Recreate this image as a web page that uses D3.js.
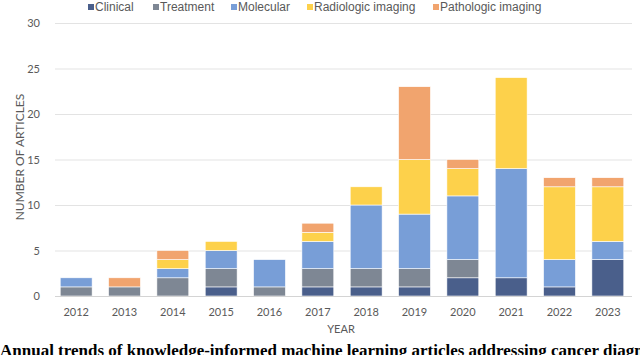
<!DOCTYPE html>
<html>
<head>
<meta charset="utf-8">
<script src="https://cdn.jsdelivr.net/npm/d3@7"></script>
<style>
    body { margin: 0; background: #fff; }
    svg { display: block; }
    .tick text { fill: #595959; font-family: Lato, "Open Sans", sans-serif; font-size: 11px; }
</style>
</head>
<body>
<div id="chart"></div>
<script>
(function() {
    var years = ['2012', '2013', '2014', '2015', '2016', '2017', '2018', '2019', '2020', '2021', '2022', '2023'];
    var series_names = ['Clinical', 'Treatment', 'Molecular', 'Radiologic imaging', 'Pathologic imaging'];
    var clinical   = [0, 0, 0, 1, 0, 1, 1, 1, 2, 2, 1, 4];
    var treatment  = [1, 1, 2, 2, 1, 2, 2, 2, 2, 0, 0, 0];
    var molecular  = [1, 0, 1, 2, 3, 3, 7, 6, 7, 12, 3, 2];
    var radiologic = [0, 0, 1, 1, 0, 1, 2, 6, 3, 10, 8, 6];
    var pathologic = [0, 1, 1, 0, 0, 1, 0, 8, 1, 0, 1, 1];
    var y_ticks = [0, 5, 10, 15, 20, 25, 30];

    var width = 640,
        height = 355,
        colors = ['#4a5f8b', '#7e8794', '#789ed7', '#fdd14b', '#f1a46e'],
        plot = { left: 52, right: 632, top: 23, bottom: 296 };

    var svg = d3.select('#chart').append('svg')
        .attr('width', width)
        .attr('height', height);

    // rows for the stack
    var rows = years.map(function(yr, i) {
        return {
            year: yr,
            'Clinical': clinical[i],
            'Treatment': treatment[i],
            'Molecular': molecular[i],
            'Radiologic imaging': radiologic[i],
            'Pathologic imaging': pathologic[i]
        };
    });
    var stacked = d3.stack().keys(series_names)(rows);

    var x = d3.scaleBand()
        .domain(years)
        .range([plot.left, plot.right])
        .paddingInner(0.34)
        .paddingOuter(0.17);

    var y = d3.scaleLinear()
        .domain([0, 30])
        .range([plot.bottom, plot.top]);

    // gridlines
    svg.append('g')
        .selectAll('line')
        .data(y_ticks.slice(1))
        .enter().append('line')
        .attr('x1', plot.left + 3)
        .attr('x2', plot.right)
        .attr('y1', function(d) { return y(d) + 0.5; })
        .attr('y2', function(d) { return y(d) + 0.5; })
        .attr('stroke', '#e3e3e3')
        .attr('stroke-width', 1);

    // y axis labels
    var y_axis = svg.append('g')
        .attr('transform', 'translate(40,0)')
        .call(d3.axisLeft(y).tickValues(y_ticks).tickSize(0).tickPadding(0));
    y_axis.select('.domain').remove();
    y_axis.selectAll('.tick text').attr('dy', '0.35em');

    // bars
    svg.append('g')
        .selectAll('g')
        .data(stacked)
        .enter().append('g')
        .attr('fill', function(d, i) { return colors[i]; })
        .selectAll('rect')
        .data(function(d) { return d; })
        .enter().append('rect')
        .filter(function(d) { return d[1] > d[0]; })
        .attr('x', function(d) { return x(d.data.year); })
        .attr('y', function(d) { return y(d[1]); })
        .attr('width', x.bandwidth())
        .attr('height', function(d) { return y(d[0]) - y(d[1]); })
        .attr('stroke', '#fff')
        .attr('stroke-width', 0.6);

    // baseline
    svg.append('line')
        .attr('x1', plot.left + 3)
        .attr('x2', plot.right)
        .attr('y1', y(0) + 0.5)
        .attr('y2', y(0) + 0.5)
        .attr('stroke', '#d4d4d4')
        .attr('stroke-width', 1);

    // x axis labels
    var x_axis = svg.append('g')
        .attr('transform', 'translate(0,' + y(0) + ')')
        .call(d3.axisBottom(x).tickSize(0).tickPadding(12));
    x_axis.select('.domain').remove();

    // axis titles
    svg.append('text')
        .attr('x', 341)
        .attr('y', 333)
        .attr('text-anchor', 'middle')
        .attr('fill', '#595959')
        .style('font-family', 'Lato, "Open Sans", sans-serif')
        .style('font-size', '11px')
        .text('YEAR');

    svg.append('text')
        .attr('transform', 'translate(24,157) rotate(-90)')
        .attr('text-anchor', 'middle')
        .attr('fill', '#595959')
        .style('font-family', 'Lato, "Open Sans", sans-serif')
        .style('font-size', '12px')
        .text('NUMBER OF ARTICLES');

    // legend
    var legend_x = [88, 153, 231, 307, 433];
    var legend = svg.append('g')
        .selectAll('g')
        .data(series_names)
        .enter().append('g')
        .attr('transform', function(d, i) { return 'translate(' + legend_x[i] + ',7)'; });
    legend.append('rect')
        .attr('x', 0)
        .attr('y', -3)
        .attr('width', 6)
        .attr('height', 6)
        .attr('fill', function(d, i) { return colors[i]; });
    legend.append('text')
        .attr('x', 7)
        .attr('dy', '0.35em')
        .attr('fill', '#595959')
        .style('font-family', '"Liberation Sans", Arial, sans-serif')
        .style('font-size', '12px')
        .text(function(d) { return d; });

    // caption, cut off by the frame like in the source
    svg.append('text')
        .attr('x', 0)
        .attr('y', 356)
        .attr('fill', '#000')
        .style('font-family', '"Liberation Serif", "Times New Roman", serif')
        .style('font-weight', 'bold')
        .style('font-size', '17px')
        .text('Annual trends of knowledge-informed machine learning articles addressing cancer diagnosis');
})();
</script>
</body>
</html>
